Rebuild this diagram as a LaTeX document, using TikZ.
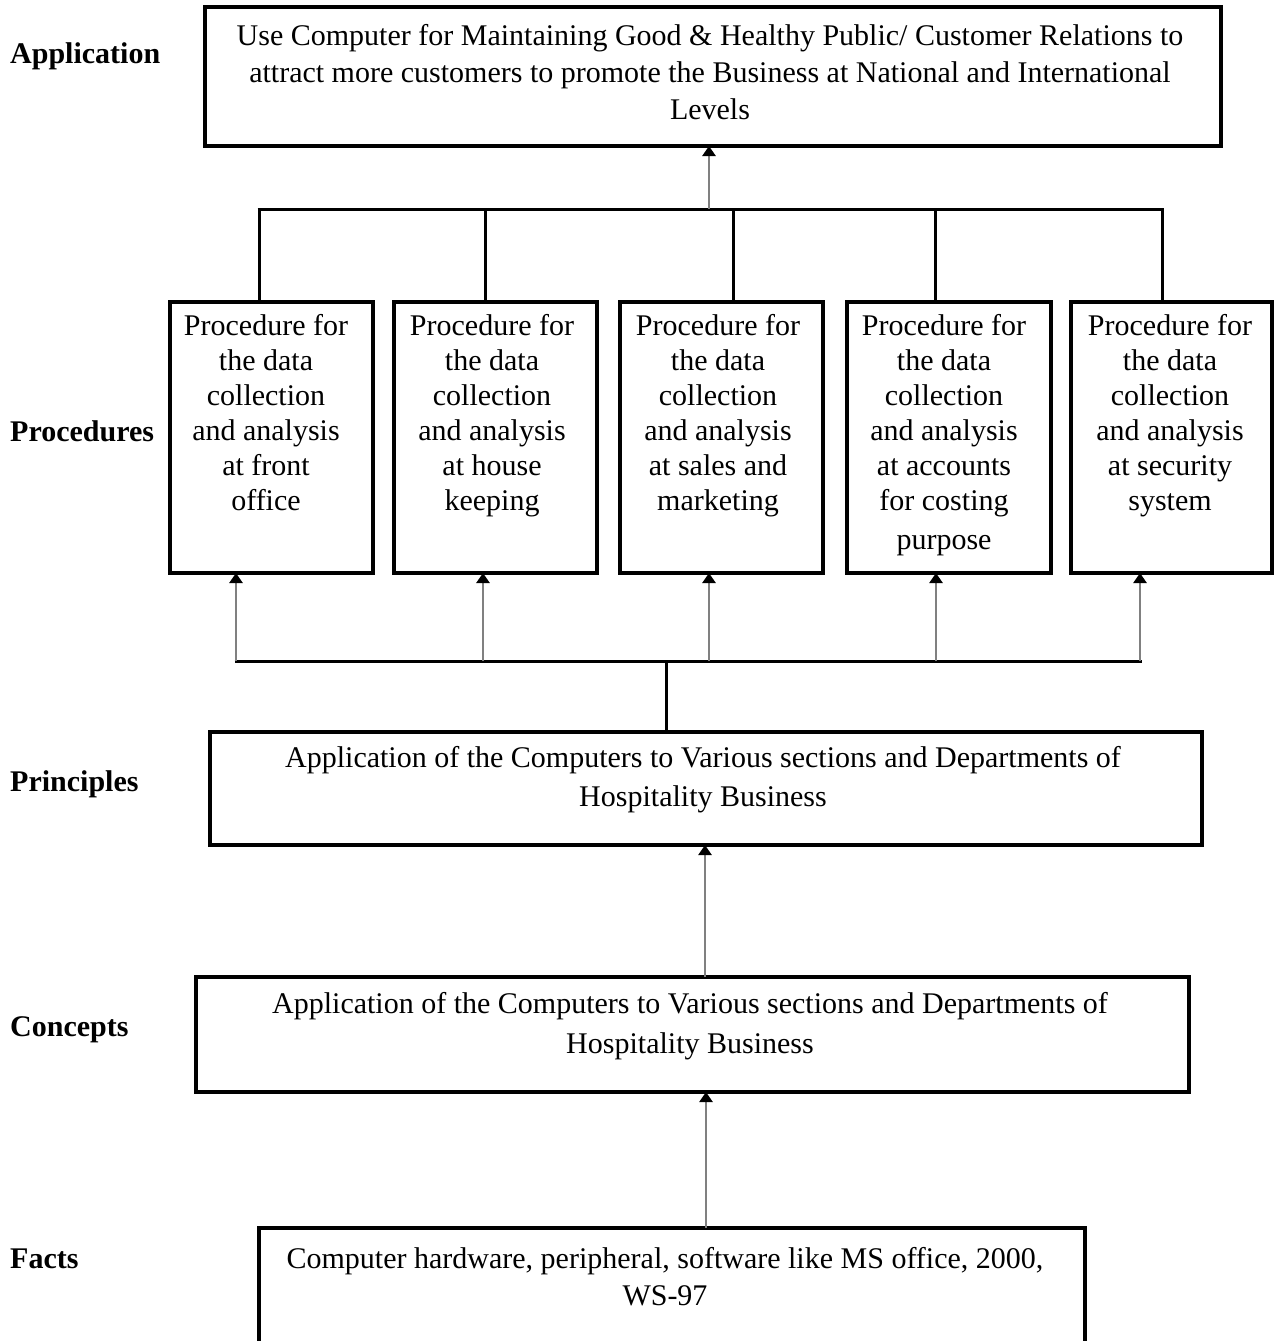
\documentclass[tikz,border=0pt]{standalone}
\usepackage{fontspec}
\setmainfont{Liberation Serif}
\usetikzlibrary{arrows.meta}
\definecolor{shaft}{HTML}{808080}
\begin{document}
\begin{tikzpicture}[x=1pt,y=-1pt,
  frame/.style={draw, line width=3.3pt, inner sep=0pt, outer sep=0pt, anchor=north west},
  txt/.style={font=\fontsize{30}{35}\selectfont, align=center, anchor=base, inner sep=0pt},
  lbl/.style={font=\fontsize{30}{35}\selectfont\bfseries, anchor=base west, inner sep=0pt},
  wire/.style={line width=3pt},
  uparrow/.style={draw=shaft, line width=2.6pt, -{Triangle[length=10pt,width=13pt,color=black]}}
]
\useasboundingbox (0,0) rectangle (1282,1341);
\clip (0,0) rectangle (1282,1341);

% level labels
\node[lbl] (lapp) at (10,63) {Application};
\node[lbl] (lproc) at (10,441) {Procedures};
\node[lbl] (lprin) at (10,791) {Principles};
\node[lbl] (lconc) at (10,1036) {Concepts};
\node[lbl] (lfact) at (10,1268) {Facts};

% application box (text nodes are placed by the baseline of their last line)
\node[frame, minimum width=1016pt, minimum height=139pt] (app) at (205,7) {};
\node[txt] (tapp) at (710,119) {Use Computer for Maintaining Good \& Healthy Public/ Customer Relations to\\[2pt]attract more customers to promote the Business at National and International\\[2pt]Levels};

% procedure boxes
\node[frame, minimum width=203pt, minimum height=271pt] (p1) at (170,302) {};
\node[frame, minimum width=203pt, minimum height=271pt] (p2) at (394,302) {};
\node[frame, minimum width=203pt, minimum height=271pt] (p3) at (620,302) {};
\node[frame, minimum width=204pt, minimum height=271pt] (p4) at (847,302) {};
\node[frame, minimum width=201pt, minimum height=271pt] (p5) at (1071,302) {};

\node[txt] (tp1) at (266,510) {Procedure for\\the data\\collection\\and analysis\\at front\\office};
\node[txt] (tp2) at (492,510) {Procedure for\\the data\\collection\\and analysis\\at house\\keeping};
\node[txt] (tp3) at (718,510) {Procedure for\\the data\\collection\\and analysis\\at sales and\\marketing};
\node[txt] (tp4) at (944,549) {Procedure for\\the data\\collection\\and analysis\\at accounts\\for costing\\[4pt]purpose};
\node[txt] (tp5) at (1170,510) {Procedure for\\the data\\collection\\and analysis\\at security\\system};

% principles, concepts, facts
\node[frame, minimum width=992pt, minimum height=113pt] (prin) at (210,732) {};
\node[txt] (tprin) at (703,806) {Application of the Computers to Various sections and Departments of\\[4pt]Hospitality Business};
\node[frame, minimum width=993pt, minimum height=115pt] (conc) at (196,977) {};
\node[txt] (tconc) at (690,1053) {Application of the Computers to Various sections and Departments of\\[5pt]Hospitality Business};
\node[frame, minimum width=826pt, minimum height=140pt] (fact) at (259,1228) {};
\node[txt] (tfact) at (665,1305) {Computer hardware, peripheral, software like MS office, 2000,\\[2pt]WS-97};

% upper bus joining the procedures to the application box
\coordinate (t1) at (259,209);
\coordinate (t2) at (485,209);
\coordinate (t3) at (733,209);
\coordinate (t4) at (935,209);
\coordinate (t5) at (1162,209);
\coordinate (tup) at (709,209);
\draw[wire] ([xshift=-1.5pt]t1) -- ([xshift=1.5pt]t5);
\foreach \i in {1,...,5} \draw[wire] (t\i) -- (t\i |- p\i.north);
\draw[uparrow] (tup) -- (tup |- app.south);

% lower bus feeding the procedures from the principles box
\coordinate (b1) at (236,661);
\coordinate (b2) at (483,661);
\coordinate (b3) at (709,661);
\coordinate (b4) at (936,661);
\coordinate (b5) at (1140,661);
\coordinate (bdown) at (666,661);
\draw[wire] ([xshift=-1.5pt]b1) -- ([xshift=1.5pt]b5);
\draw[wire] (bdown) -- (bdown |- prin.north);
\foreach \i in {1,...,5} \draw[uparrow] (b\i) -- (b\i |- p\i.south);

% arrows between the lower levels
\coordinate (c1) at (705,0);
\draw[uparrow] (c1 |- conc.north) -- (c1 |- prin.south);
\coordinate (c2) at (706,0);
\draw[uparrow] (c2 |- fact.north) -- (c2 |- conc.south);
\end{tikzpicture}
\end{document}
